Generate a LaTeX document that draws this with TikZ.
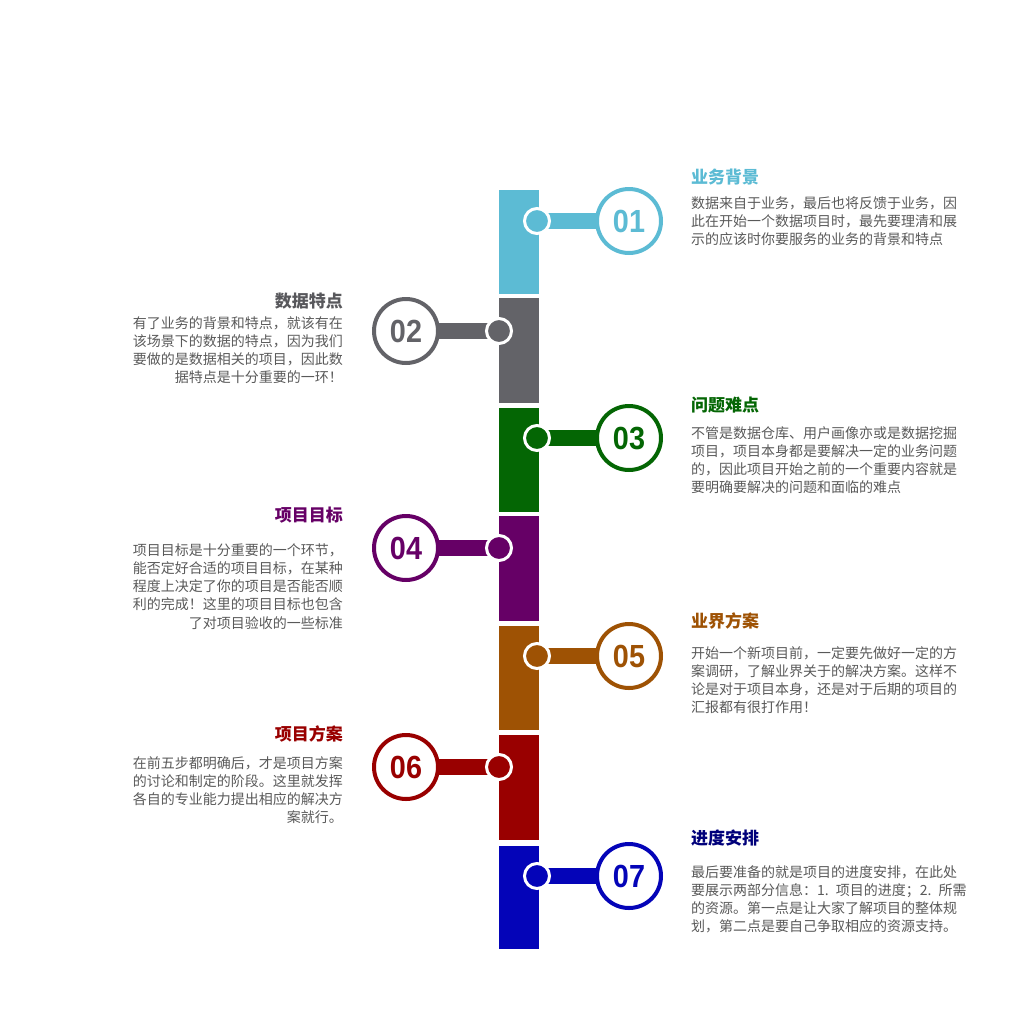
\documentclass[tikz,border=0pt]{standalone}
\usepackage{fontspec}
\setmainfont{Noto Sans CJK SC}
\newfontfamily\numfont{Liberation Sans}
\usetikzlibrary{backgrounds}
\definecolor{c1}{HTML}{5CBBD4}
\definecolor{c2}{HTML}{636368}
\definecolor{c3}{HTML}{046604}
\definecolor{c4}{HTML}{660066}
\definecolor{c5}{HTML}{9E5204}
\definecolor{c6}{HTML}{990000}
\definecolor{c7}{HTML}{0404B8}
\definecolor{t7}{HTML}{00007A}
\definecolor{bodygray}{HTML}{595959}
\definecolor{t2}{HTML}{58585C}
\begin{document}
\begin{tikzpicture}[x=1pt,y=-1pt,
  bar/.style={rectangle, inner sep=0pt, minimum width=40pt, fill=#1, draw=none},
  dot/.style={circle, inner sep=0pt, minimum size=25pt, fill=#1, draw=white, line width=3pt},
  ring/.style={circle, inner sep=0pt, minimum size=64pt, fill=white, draw=#1, line width=4pt, text=#1,
    font=\numfont\bfseries\fontsize{32}{32}\selectfont},
  link/.style={line width=16pt, draw=#1},
  ttl/.style={font=\bfseries\fontsize{17}{20}\selectfont, text=#1, inner sep=0pt},
  bodyr/.style={font=\fontsize{14}{18.2}\selectfont, text=bodygray, inner sep=0pt, text width=290pt, align=left, anchor=base west},
  bodyl/.style={font=\fontsize{14}{18.2}\selectfont, text=bodygray, inner sep=0pt, text width=214pt, align=right, anchor=base east}
]
\useasboundingbox (0,0) rectangle (1028,1015);
% bars
\node[bar=c1, minimum height=104pt] (b1) at (519,242) {};
\node[bar=c2, minimum height=105pt] (b2) at (519,350.5) {};
\node[bar=c3, minimum height=104pt] (b3) at (519,460) {};
\node[bar=c4, minimum height=105pt] (b4) at (519,568.5) {};
\node[bar=c5, minimum height=104pt] (b5) at (519,678) {};
\node[bar=c6, minimum height=105pt] (b6) at (519,787.5) {};
\node[bar=c7, minimum height=103pt] (b7) at (519,897.5) {};
% dots
\node[dot=c1] (d1) at (537,221) {};
\node[dot=c2] (d2) at (499,331) {};
\node[dot=c3] (d3) at (537,438) {};
\node[dot=c4] (d4) at (499,548) {};
\node[dot=c5] (d5) at (537,656) {};
\node[dot=c6] (d6) at (499,767) {};
\node[dot=c7] (d7) at (537,876) {};
% rings
\node[ring=c1] (r1) at (629,221) {\scalebox{0.9}[1]{01}};
\node[ring=c2] (r2) at (406,331) {\scalebox{0.9}[1]{02}};
\node[ring=c3] (r3) at (629,438) {\scalebox{0.9}[1]{03}};
\node[ring=c4] (r4) at (406,548) {\scalebox{0.9}[1]{04}};
\node[ring=c5] (r5) at (629,656) {\scalebox{0.9}[1]{05}};
\node[ring=c6] (r6) at (406,767) {\scalebox{0.9}[1]{06}};
\node[ring=c7] (r7) at (629,876) {\scalebox{0.9}[1]{07}};
% connectors
\begin{pgfonlayer}{background}
\draw[link=c1] (d1.center) -- (r1.center);
\draw[link=c2] (d2.center) -- (r2.center);
\draw[link=c3] (d3.center) -- (r3.center);
\draw[link=c4] (d4.center) -- (r4.center);
\draw[link=c5] (d5.center) -- (r5.center);
\draw[link=c6] (d6.center) -- (r6.center);
\draw[link=c7] (d7.center) -- (r7.center);
\end{pgfonlayer}
% titles
\node[ttl=c1, anchor=base west] (t1) at (691,183.5) {业务背景};
\node[ttl=t2, anchor=base east] (t2) at (343,307.5) {数据特点};
\node[ttl=c3, anchor=base west] (t3) at (691,411.5) {问题难点};
\node[ttl=c4, anchor=base east] (t4) at (343,521.5) {项目目标};
\node[ttl=c5, anchor=base west] (t5) at (691,627.5) {业界方案};
\node[ttl=c6, anchor=base east] (t6) at (343,740.5) {项目方案};
\node[ttl=t7, anchor=base west] (t7) at (691,844.5) {进度安排};
% bodies
\node[bodyr] (p1) at (691,208.3) {数据来自于业务，最后也将反馈于业务，因\\此在开始一个数据项目时，最先要理清和展\\示的应该时你要服务的业务的背景和特点};
\node[bodyl] (p2) at (343,328.3) {有了业务的背景和特点，就该有在\\该场景下的数据的特点，因为我们\\要做的是数据相关的项目，因此数\\据特点是十分重要的一环！};
\node[bodyr] (p3) at (691,438.3) {不管是数据仓库、用户画像亦或是数据挖掘\\项目，项目本身都是要解决一定的业务问题\\的，因此项目开始之前的一个重要内容就是\\要明确要解决的问题和面临的难点};
\node[bodyl] (p4) at (343,555.3) {项目目标是十分重要的一个环节，\\能否定好合适的项目目标，在某种\\程度上决定了你的项目是否能否顺\\利的完成！这里的项目目标也包含\\了对项目验收的一些标准};
\node[bodyr] (p5) at (691,658.3) {开始一个新项目前，一定要先做好一定的方\\案调研，了解业界关于的解决方案。这样不\\论是对于项目本身，还是对于后期的项目的\\汇报都有很打作用！};
\node[bodyl] (p6) at (343,768.3) {在前五步都明确后，才是项目方案\\的讨论和制定的阶段。这里就发挥\\各自的专业能力提出相应的解决方\\案就行。};
\node[bodyr] (p7) at (691,877.3) {最后要准备的就是项目的进度安排，在此处\\要展示两部分信息：1. 项目的进度；2. 所需\\的资源。第一点是让大家了解项目的整体规\\划，第二点是要自己争取相应的资源支持。};
\end{tikzpicture}
\end{document}
